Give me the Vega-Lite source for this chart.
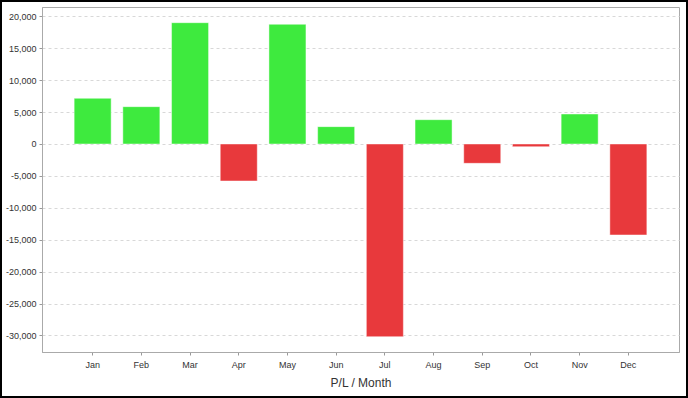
{
  "$schema": "https://vega.github.io/schema/vega-lite/v6.json",
  "width": 637,
  "height": 345,
  "autosize": {"type": "none"},
  "padding": {"left": 42, "top": 7, "right": 9, "bottom": 46},
  "background": "white",
  "config": {
    "locale": {"number": {"decimal": ".", "thousands": ",", "grouping": [3], "currency": ["$", ""], "minus": "-"}},
    "view": {"stroke": "#aaaaaa", "strokeWidth": 1},
    "font": "Liberation Sans"
  },
  "data": {
    "values": [
      {"month": "Jan", "pl": 7160},
      {"month": "Feb", "pl": 5850},
      {"month": "Mar", "pl": 19010},
      {"month": "Apr", "pl": -5800},
      {"month": "May", "pl": 18760},
      {"month": "Jun", "pl": 2720},
      {"month": "Jul", "pl": -30200},
      {"month": "Aug", "pl": 3810},
      {"month": "Sep", "pl": -3030},
      {"month": "Oct", "pl": -420},
      {"month": "Nov", "pl": 4700},
      {"month": "Dec", "pl": -14260}
    ]
  },
  "layer": [
    {
      "mark": {"type": "bar", "stroke": "#ffffff", "strokeOpacity": 0.45, "strokeWidth": 1},
      "encoding": {
        "x": {
          "field": "month", "type": "nominal", "sort": null,
          "scale": {"paddingInner": 0.24, "paddingOuter": 0.66},
          "axis": {
            "title": "P/L / Month", "titleFont": "Liberation Sans", "titleFontSize": 12, "titleFontWeight": "normal",
            "titleColor": "#333333", "titlePadding": 8,
            "labelAngle": 0, "labelFontSize": 9, "labelColor": "#333333", "labelPadding": 5,
            "tickSize": 3, "tickColor": "#999999", "domain": true, "domainColor": "#aaaaaa", "grid": false
          }
        },
        "y": {
          "field": "pl", "type": "quantitative",
          "scale": {"domain": [-32600, 21470], "nice": false, "zero": false},
          "axis": {
            "title": null, "values": [-30000, -25000, -20000, -15000, -10000, -5000, 0, 5000, 10000, 15000, 20000],
            "format": ",d", "labelFontSize": 9, "labelColor": "#333333", "labelPadding": 3,
            "tickSize": 3, "tickColor": "#999999", "domainColor": "#aaaaaa",
            "grid": true, "gridColor": "#d8d8d8", "gridDash": [3, 3], "gridWidth": 1
          }
        },
        "y2": {"datum": 0},
        "color": {
          "condition": {"test": "datum.pl >= 0", "value": "#3eea3e"},
          "value": "#e8393c"
        }
      }
    },
    {
      "mark": {"type": "rect", "fill": null, "stroke": "#000000", "strokeWidth": 2},
      "encoding": {
        "x": {"value": -41},
        "x2": {"value": 645},
        "y": {"value": -6},
        "y2": {"value": 390}
      }
    }
  ]
}
